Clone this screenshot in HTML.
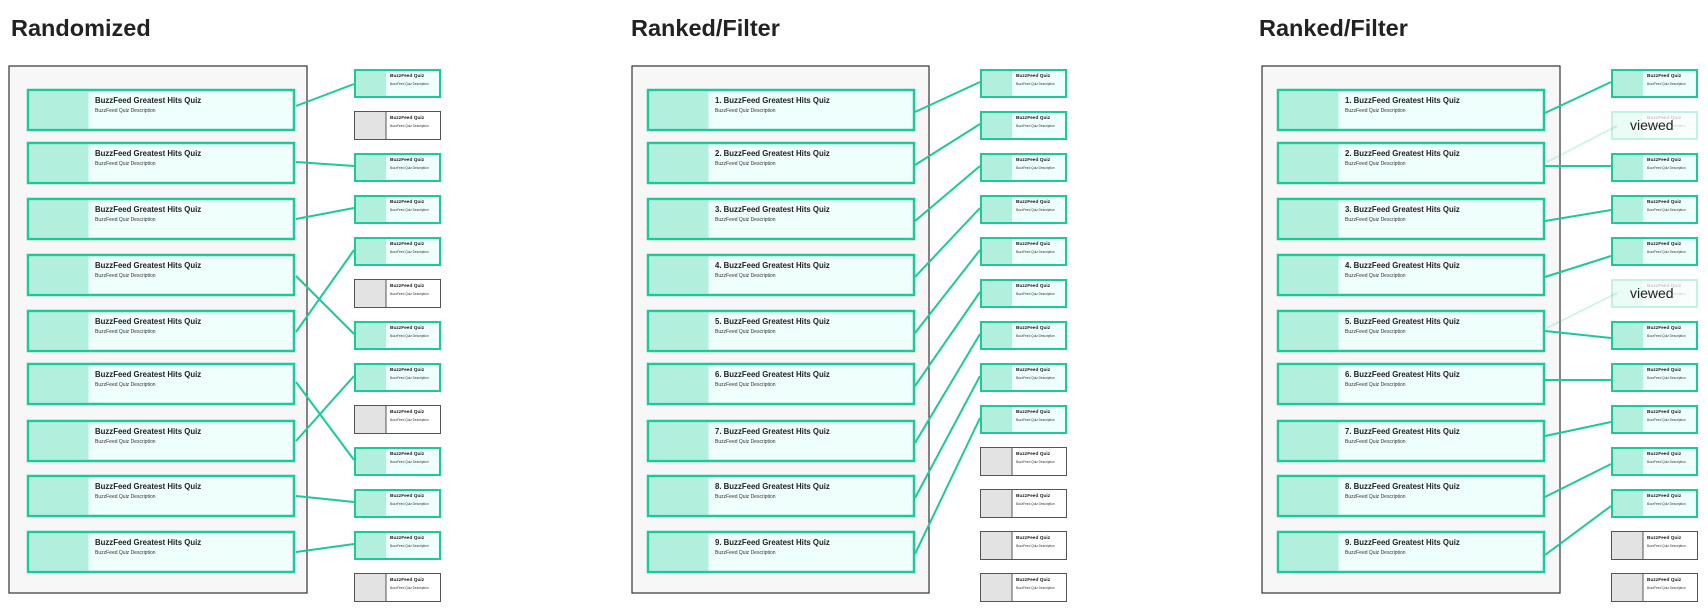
<!DOCTYPE html>
<html><head><meta charset="utf-8"><style>
html,body{margin:0;padding:0;background:#fff;}
svg{display:block;font-family:"Liberation Sans",sans-serif;}
.h{font-size:23.5px;font-weight:bold;fill:#222;}
.ct{font-size:7.8px;font-weight:bold;fill:#222;}
.cd{font-size:5px;fill:#333;}
.st{font-size:4.8px;font-weight:bold;fill:#222;}
.sd{font-size:3.2px;fill:#333;}
.card{fill:#effffb;stroke:#1dc99a;stroke-width:2.5;}
.th{fill:#b2f0dd;}
.sg{fill:#effffb;stroke:#1dc99a;stroke-width:2;}
.sgr{fill:#fff;stroke:#555;stroke-width:1;}
.thg{fill:#e3e3e3;}
.ln{stroke:#1dc99a;stroke-width:2;fill:none;}
.fl{stroke:#1dc99a;stroke-width:2;opacity:0.2;}
.out{fill:#f7f7f7;stroke:#333;stroke-width:1.2;}
</style></head><body>
<svg width="1708" height="611" viewBox="0 0 1708 611">
<text class="h" x="11" y="36">Randomized</text>
<text class="h" x="631" y="36">Ranked/Filter</text>
<text class="h" x="1259" y="36">Ranked/Filter</text>

<rect class="out" x="9" y="66" width="298" height="527"/>
<rect class="out" x="632" y="66" width="297" height="527"/>
<rect class="out" x="1262" y="66" width="298" height="527"/>

<g transform="translate(27,89)"><rect class="card" x="1" y="1" width="266" height="40"/><rect class="th" x="2.5" y="2.5" width="59" height="37"/><text class="ct" x="68" y="14">BuzzFeed Greatest Hits Quiz</text><text class="cd" x="68" y="23">BuzzFeed Quiz Description</text></g>
<g transform="translate(27,142)"><rect class="card" x="1" y="1" width="266" height="40"/><rect class="th" x="2.5" y="2.5" width="59" height="37"/><text class="ct" x="68" y="14">BuzzFeed Greatest Hits Quiz</text><text class="cd" x="68" y="23">BuzzFeed Quiz Description</text></g>
<g transform="translate(27,198)"><rect class="card" x="1" y="1" width="266" height="40"/><rect class="th" x="2.5" y="2.5" width="59" height="37"/><text class="ct" x="68" y="14">BuzzFeed Greatest Hits Quiz</text><text class="cd" x="68" y="23">BuzzFeed Quiz Description</text></g>
<g transform="translate(27,254)"><rect class="card" x="1" y="1" width="266" height="40"/><rect class="th" x="2.5" y="2.5" width="59" height="37"/><text class="ct" x="68" y="14">BuzzFeed Greatest Hits Quiz</text><text class="cd" x="68" y="23">BuzzFeed Quiz Description</text></g>
<g transform="translate(27,310)"><rect class="card" x="1" y="1" width="266" height="40"/><rect class="th" x="2.5" y="2.5" width="59" height="37"/><text class="ct" x="68" y="14">BuzzFeed Greatest Hits Quiz</text><text class="cd" x="68" y="23">BuzzFeed Quiz Description</text></g>
<g transform="translate(27,363)"><rect class="card" x="1" y="1" width="266" height="40"/><rect class="th" x="2.5" y="2.5" width="59" height="37"/><text class="ct" x="68" y="14">BuzzFeed Greatest Hits Quiz</text><text class="cd" x="68" y="23">BuzzFeed Quiz Description</text></g>
<g transform="translate(27,420)"><rect class="card" x="1" y="1" width="266" height="40"/><rect class="th" x="2.5" y="2.5" width="59" height="37"/><text class="ct" x="68" y="14">BuzzFeed Greatest Hits Quiz</text><text class="cd" x="68" y="23">BuzzFeed Quiz Description</text></g>
<g transform="translate(27,475)"><rect class="card" x="1" y="1" width="266" height="40"/><rect class="th" x="2.5" y="2.5" width="59" height="37"/><text class="ct" x="68" y="14">BuzzFeed Greatest Hits Quiz</text><text class="cd" x="68" y="23">BuzzFeed Quiz Description</text></g>
<g transform="translate(27,531)"><rect class="card" x="1" y="1" width="266" height="40"/><rect class="th" x="2.5" y="2.5" width="59" height="37"/><text class="ct" x="68" y="14">BuzzFeed Greatest Hits Quiz</text><text class="cd" x="68" y="23">BuzzFeed Quiz Description</text></g>

<g transform="translate(647,89)"><rect class="card" x="1" y="1" width="266" height="40"/><rect class="th" x="2.5" y="2.5" width="59" height="37"/><text class="ct" x="68" y="14">1. BuzzFeed Greatest Hits Quiz</text><text class="cd" x="68" y="23">BuzzFeed Quiz Description</text></g>
<g transform="translate(647,142)"><rect class="card" x="1" y="1" width="266" height="40"/><rect class="th" x="2.5" y="2.5" width="59" height="37"/><text class="ct" x="68" y="14">2. BuzzFeed Greatest Hits Quiz</text><text class="cd" x="68" y="23">BuzzFeed Quiz Description</text></g>
<g transform="translate(647,198)"><rect class="card" x="1" y="1" width="266" height="40"/><rect class="th" x="2.5" y="2.5" width="59" height="37"/><text class="ct" x="68" y="14">3. BuzzFeed Greatest Hits Quiz</text><text class="cd" x="68" y="23">BuzzFeed Quiz Description</text></g>
<g transform="translate(647,254)"><rect class="card" x="1" y="1" width="266" height="40"/><rect class="th" x="2.5" y="2.5" width="59" height="37"/><text class="ct" x="68" y="14">4. BuzzFeed Greatest Hits Quiz</text><text class="cd" x="68" y="23">BuzzFeed Quiz Description</text></g>
<g transform="translate(647,310)"><rect class="card" x="1" y="1" width="266" height="40"/><rect class="th" x="2.5" y="2.5" width="59" height="37"/><text class="ct" x="68" y="14">5. BuzzFeed Greatest Hits Quiz</text><text class="cd" x="68" y="23">BuzzFeed Quiz Description</text></g>
<g transform="translate(647,363)"><rect class="card" x="1" y="1" width="266" height="40"/><rect class="th" x="2.5" y="2.5" width="59" height="37"/><text class="ct" x="68" y="14">6. BuzzFeed Greatest Hits Quiz</text><text class="cd" x="68" y="23">BuzzFeed Quiz Description</text></g>
<g transform="translate(647,420)"><rect class="card" x="1" y="1" width="266" height="40"/><rect class="th" x="2.5" y="2.5" width="59" height="37"/><text class="ct" x="68" y="14">7. BuzzFeed Greatest Hits Quiz</text><text class="cd" x="68" y="23">BuzzFeed Quiz Description</text></g>
<g transform="translate(647,475)"><rect class="card" x="1" y="1" width="266" height="40"/><rect class="th" x="2.5" y="2.5" width="59" height="37"/><text class="ct" x="68" y="14">8. BuzzFeed Greatest Hits Quiz</text><text class="cd" x="68" y="23">BuzzFeed Quiz Description</text></g>
<g transform="translate(647,531)"><rect class="card" x="1" y="1" width="266" height="40"/><rect class="th" x="2.5" y="2.5" width="59" height="37"/><text class="ct" x="68" y="14">9. BuzzFeed Greatest Hits Quiz</text><text class="cd" x="68" y="23">BuzzFeed Quiz Description</text></g>

<g transform="translate(1277,89)"><rect class="card" x="1" y="1" width="266" height="40"/><rect class="th" x="2.5" y="2.5" width="59" height="37"/><text class="ct" x="68" y="14">1. BuzzFeed Greatest Hits Quiz</text><text class="cd" x="68" y="23">BuzzFeed Quiz Description</text></g>
<g transform="translate(1277,142)"><rect class="card" x="1" y="1" width="266" height="40"/><rect class="th" x="2.5" y="2.5" width="59" height="37"/><text class="ct" x="68" y="14">2. BuzzFeed Greatest Hits Quiz</text><text class="cd" x="68" y="23">BuzzFeed Quiz Description</text></g>
<g transform="translate(1277,198)"><rect class="card" x="1" y="1" width="266" height="40"/><rect class="th" x="2.5" y="2.5" width="59" height="37"/><text class="ct" x="68" y="14">3. BuzzFeed Greatest Hits Quiz</text><text class="cd" x="68" y="23">BuzzFeed Quiz Description</text></g>
<g transform="translate(1277,254)"><rect class="card" x="1" y="1" width="266" height="40"/><rect class="th" x="2.5" y="2.5" width="59" height="37"/><text class="ct" x="68" y="14">4. BuzzFeed Greatest Hits Quiz</text><text class="cd" x="68" y="23">BuzzFeed Quiz Description</text></g>
<g transform="translate(1277,310)"><rect class="card" x="1" y="1" width="266" height="40"/><rect class="th" x="2.5" y="2.5" width="59" height="37"/><text class="ct" x="68" y="14">5. BuzzFeed Greatest Hits Quiz</text><text class="cd" x="68" y="23">BuzzFeed Quiz Description</text></g>
<g transform="translate(1277,363)"><rect class="card" x="1" y="1" width="266" height="40"/><rect class="th" x="2.5" y="2.5" width="59" height="37"/><text class="ct" x="68" y="14">6. BuzzFeed Greatest Hits Quiz</text><text class="cd" x="68" y="23">BuzzFeed Quiz Description</text></g>
<g transform="translate(1277,420)"><rect class="card" x="1" y="1" width="266" height="40"/><rect class="th" x="2.5" y="2.5" width="59" height="37"/><text class="ct" x="68" y="14">7. BuzzFeed Greatest Hits Quiz</text><text class="cd" x="68" y="23">BuzzFeed Quiz Description</text></g>
<g transform="translate(1277,475)"><rect class="card" x="1" y="1" width="266" height="40"/><rect class="th" x="2.5" y="2.5" width="59" height="37"/><text class="ct" x="68" y="14">8. BuzzFeed Greatest Hits Quiz</text><text class="cd" x="68" y="23">BuzzFeed Quiz Description</text></g>
<g transform="translate(1277,531)"><rect class="card" x="1" y="1" width="266" height="40"/><rect class="th" x="2.5" y="2.5" width="59" height="37"/><text class="ct" x="68" y="14">9. BuzzFeed Greatest Hits Quiz</text><text class="cd" x="68" y="23">BuzzFeed Quiz Description</text></g>

<g transform="translate(354,69)"><rect class="sg" x="1" y="1" width="85" height="27"/><rect class="th" x="2" y="2" width="30" height="25"/><text class="st" x="36" y="8">BuzzFeed Quiz</text><text class="sd" x="36" y="16">BuzzFeed Quiz Description</text></g>
<g transform="translate(354,111)"><rect class="sgr" x="0.5" y="0.5" width="86" height="28"/><rect class="thg" x="1" y="1" width="31" height="27"/><line x1="32" y1="1" x2="32" y2="28" stroke="#555"/><text class="st" x="36" y="8">BuzzFeed Quiz</text><text class="sd" x="36" y="16">BuzzFeed Quiz Description</text></g>
<g transform="translate(354,153)"><rect class="sg" x="1" y="1" width="85" height="27"/><rect class="th" x="2" y="2" width="30" height="25"/><text class="st" x="36" y="8">BuzzFeed Quiz</text><text class="sd" x="36" y="16">BuzzFeed Quiz Description</text></g>
<g transform="translate(354,195)"><rect class="sg" x="1" y="1" width="85" height="27"/><rect class="th" x="2" y="2" width="30" height="25"/><text class="st" x="36" y="8">BuzzFeed Quiz</text><text class="sd" x="36" y="16">BuzzFeed Quiz Description</text></g>
<g transform="translate(354,237)"><rect class="sg" x="1" y="1" width="85" height="27"/><rect class="th" x="2" y="2" width="30" height="25"/><text class="st" x="36" y="8">BuzzFeed Quiz</text><text class="sd" x="36" y="16">BuzzFeed Quiz Description</text></g>
<g transform="translate(354,279)"><rect class="sgr" x="0.5" y="0.5" width="86" height="28"/><rect class="thg" x="1" y="1" width="31" height="27"/><line x1="32" y1="1" x2="32" y2="28" stroke="#555"/><text class="st" x="36" y="8">BuzzFeed Quiz</text><text class="sd" x="36" y="16">BuzzFeed Quiz Description</text></g>
<g transform="translate(354,321)"><rect class="sg" x="1" y="1" width="85" height="27"/><rect class="th" x="2" y="2" width="30" height="25"/><text class="st" x="36" y="8">BuzzFeed Quiz</text><text class="sd" x="36" y="16">BuzzFeed Quiz Description</text></g>
<g transform="translate(354,363)"><rect class="sg" x="1" y="1" width="85" height="27"/><rect class="th" x="2" y="2" width="30" height="25"/><text class="st" x="36" y="8">BuzzFeed Quiz</text><text class="sd" x="36" y="16">BuzzFeed Quiz Description</text></g>
<g transform="translate(354,405)"><rect class="sgr" x="0.5" y="0.5" width="86" height="28"/><rect class="thg" x="1" y="1" width="31" height="27"/><line x1="32" y1="1" x2="32" y2="28" stroke="#555"/><text class="st" x="36" y="8">BuzzFeed Quiz</text><text class="sd" x="36" y="16">BuzzFeed Quiz Description</text></g>
<g transform="translate(354,447)"><rect class="sg" x="1" y="1" width="85" height="27"/><rect class="th" x="2" y="2" width="30" height="25"/><text class="st" x="36" y="8">BuzzFeed Quiz</text><text class="sd" x="36" y="16">BuzzFeed Quiz Description</text></g>
<g transform="translate(354,489)"><rect class="sg" x="1" y="1" width="85" height="27"/><rect class="th" x="2" y="2" width="30" height="25"/><text class="st" x="36" y="8">BuzzFeed Quiz</text><text class="sd" x="36" y="16">BuzzFeed Quiz Description</text></g>
<g transform="translate(354,531)"><rect class="sg" x="1" y="1" width="85" height="27"/><rect class="th" x="2" y="2" width="30" height="25"/><text class="st" x="36" y="8">BuzzFeed Quiz</text><text class="sd" x="36" y="16">BuzzFeed Quiz Description</text></g>
<g transform="translate(354,573)"><rect class="sgr" x="0.5" y="0.5" width="86" height="28"/><rect class="thg" x="1" y="1" width="31" height="27"/><line x1="32" y1="1" x2="32" y2="28" stroke="#555"/><text class="st" x="36" y="8">BuzzFeed Quiz</text><text class="sd" x="36" y="16">BuzzFeed Quiz Description</text></g>

<g transform="translate(980,69)"><rect class="sg" x="1" y="1" width="85" height="27"/><rect class="th" x="2" y="2" width="30" height="25"/><text class="st" x="36" y="8">BuzzFeed Quiz</text><text class="sd" x="36" y="16">BuzzFeed Quiz Description</text></g>
<g transform="translate(980,111)"><rect class="sg" x="1" y="1" width="85" height="27"/><rect class="th" x="2" y="2" width="30" height="25"/><text class="st" x="36" y="8">BuzzFeed Quiz</text><text class="sd" x="36" y="16">BuzzFeed Quiz Description</text></g>
<g transform="translate(980,153)"><rect class="sg" x="1" y="1" width="85" height="27"/><rect class="th" x="2" y="2" width="30" height="25"/><text class="st" x="36" y="8">BuzzFeed Quiz</text><text class="sd" x="36" y="16">BuzzFeed Quiz Description</text></g>
<g transform="translate(980,195)"><rect class="sg" x="1" y="1" width="85" height="27"/><rect class="th" x="2" y="2" width="30" height="25"/><text class="st" x="36" y="8">BuzzFeed Quiz</text><text class="sd" x="36" y="16">BuzzFeed Quiz Description</text></g>
<g transform="translate(980,237)"><rect class="sg" x="1" y="1" width="85" height="27"/><rect class="th" x="2" y="2" width="30" height="25"/><text class="st" x="36" y="8">BuzzFeed Quiz</text><text class="sd" x="36" y="16">BuzzFeed Quiz Description</text></g>
<g transform="translate(980,279)"><rect class="sg" x="1" y="1" width="85" height="27"/><rect class="th" x="2" y="2" width="30" height="25"/><text class="st" x="36" y="8">BuzzFeed Quiz</text><text class="sd" x="36" y="16">BuzzFeed Quiz Description</text></g>
<g transform="translate(980,321)"><rect class="sg" x="1" y="1" width="85" height="27"/><rect class="th" x="2" y="2" width="30" height="25"/><text class="st" x="36" y="8">BuzzFeed Quiz</text><text class="sd" x="36" y="16">BuzzFeed Quiz Description</text></g>
<g transform="translate(980,363)"><rect class="sg" x="1" y="1" width="85" height="27"/><rect class="th" x="2" y="2" width="30" height="25"/><text class="st" x="36" y="8">BuzzFeed Quiz</text><text class="sd" x="36" y="16">BuzzFeed Quiz Description</text></g>
<g transform="translate(980,405)"><rect class="sg" x="1" y="1" width="85" height="27"/><rect class="th" x="2" y="2" width="30" height="25"/><text class="st" x="36" y="8">BuzzFeed Quiz</text><text class="sd" x="36" y="16">BuzzFeed Quiz Description</text></g>
<g transform="translate(980,447)"><rect class="sgr" x="0.5" y="0.5" width="86" height="28"/><rect class="thg" x="1" y="1" width="31" height="27"/><line x1="32" y1="1" x2="32" y2="28" stroke="#555"/><text class="st" x="36" y="8">BuzzFeed Quiz</text><text class="sd" x="36" y="16">BuzzFeed Quiz Description</text></g>
<g transform="translate(980,489)"><rect class="sgr" x="0.5" y="0.5" width="86" height="28"/><rect class="thg" x="1" y="1" width="31" height="27"/><line x1="32" y1="1" x2="32" y2="28" stroke="#555"/><text class="st" x="36" y="8">BuzzFeed Quiz</text><text class="sd" x="36" y="16">BuzzFeed Quiz Description</text></g>
<g transform="translate(980,531)"><rect class="sgr" x="0.5" y="0.5" width="86" height="28"/><rect class="thg" x="1" y="1" width="31" height="27"/><line x1="32" y1="1" x2="32" y2="28" stroke="#555"/><text class="st" x="36" y="8">BuzzFeed Quiz</text><text class="sd" x="36" y="16">BuzzFeed Quiz Description</text></g>
<g transform="translate(980,573)"><rect class="sgr" x="0.5" y="0.5" width="86" height="28"/><rect class="thg" x="1" y="1" width="31" height="27"/><line x1="32" y1="1" x2="32" y2="28" stroke="#555"/><text class="st" x="36" y="8">BuzzFeed Quiz</text><text class="sd" x="36" y="16">BuzzFeed Quiz Description</text></g>

<g transform="translate(1611,69)"><rect class="sg" x="1" y="1" width="85" height="27"/><rect class="th" x="2" y="2" width="30" height="25"/><text class="st" x="36" y="8">BuzzFeed Quiz</text><text class="sd" x="36" y="16">BuzzFeed Quiz Description</text></g>
<g transform="translate(1611,111)"><g opacity="0.25"><rect class="sg" x="1" y="1" width="85" height="27"/><rect class="th" x="2" y="2" width="30" height="25"/><text class="st" x="36" y="8">BuzzFeed Quiz</text><text class="sd" x="36" y="16">BuzzFeed Quiz Description</text></g><text x="19" y="19" font-size="14" fill="#222">viewed</text></g>
<g transform="translate(1611,153)"><rect class="sg" x="1" y="1" width="85" height="27"/><rect class="th" x="2" y="2" width="30" height="25"/><text class="st" x="36" y="8">BuzzFeed Quiz</text><text class="sd" x="36" y="16">BuzzFeed Quiz Description</text></g>
<g transform="translate(1611,195)"><rect class="sg" x="1" y="1" width="85" height="27"/><rect class="th" x="2" y="2" width="30" height="25"/><text class="st" x="36" y="8">BuzzFeed Quiz</text><text class="sd" x="36" y="16">BuzzFeed Quiz Description</text></g>
<g transform="translate(1611,237)"><rect class="sg" x="1" y="1" width="85" height="27"/><rect class="th" x="2" y="2" width="30" height="25"/><text class="st" x="36" y="8">BuzzFeed Quiz</text><text class="sd" x="36" y="16">BuzzFeed Quiz Description</text></g>
<g transform="translate(1611,279)"><g opacity="0.25"><rect class="sg" x="1" y="1" width="85" height="27"/><rect class="th" x="2" y="2" width="30" height="25"/><text class="st" x="36" y="8">BuzzFeed Quiz</text><text class="sd" x="36" y="16">BuzzFeed Quiz Description</text></g><text x="19" y="19" font-size="14" fill="#222">viewed</text></g>
<g transform="translate(1611,321)"><rect class="sg" x="1" y="1" width="85" height="27"/><rect class="th" x="2" y="2" width="30" height="25"/><text class="st" x="36" y="8">BuzzFeed Quiz</text><text class="sd" x="36" y="16">BuzzFeed Quiz Description</text></g>
<g transform="translate(1611,363)"><rect class="sg" x="1" y="1" width="85" height="27"/><rect class="th" x="2" y="2" width="30" height="25"/><text class="st" x="36" y="8">BuzzFeed Quiz</text><text class="sd" x="36" y="16">BuzzFeed Quiz Description</text></g>
<g transform="translate(1611,405)"><rect class="sg" x="1" y="1" width="85" height="27"/><rect class="th" x="2" y="2" width="30" height="25"/><text class="st" x="36" y="8">BuzzFeed Quiz</text><text class="sd" x="36" y="16">BuzzFeed Quiz Description</text></g>
<g transform="translate(1611,447)"><rect class="sg" x="1" y="1" width="85" height="27"/><rect class="th" x="2" y="2" width="30" height="25"/><text class="st" x="36" y="8">BuzzFeed Quiz</text><text class="sd" x="36" y="16">BuzzFeed Quiz Description</text></g>
<g transform="translate(1611,489)"><rect class="sg" x="1" y="1" width="85" height="27"/><rect class="th" x="2" y="2" width="30" height="25"/><text class="st" x="36" y="8">BuzzFeed Quiz</text><text class="sd" x="36" y="16">BuzzFeed Quiz Description</text></g>
<g transform="translate(1611,531)"><rect class="sgr" x="0.5" y="0.5" width="86" height="28"/><rect class="thg" x="1" y="1" width="31" height="27"/><line x1="32" y1="1" x2="32" y2="28" stroke="#555"/><text class="st" x="36" y="8">BuzzFeed Quiz</text><text class="sd" x="36" y="16">BuzzFeed Quiz Description</text></g>
<g transform="translate(1611,573)"><rect class="sgr" x="0.5" y="0.5" width="86" height="28"/><rect class="thg" x="1" y="1" width="31" height="27"/><line x1="32" y1="1" x2="32" y2="28" stroke="#555"/><text class="st" x="36" y="8">BuzzFeed Quiz</text><text class="sd" x="36" y="16">BuzzFeed Quiz Description</text></g>

<g class="ln">
<line x1="296" y1="106" x2="354" y2="84"/>
<line x1="296" y1="162" x2="354" y2="166"/>
<line x1="296" y1="219" x2="354" y2="208"/>
<line x1="296" y1="276" x2="354" y2="334"/>
<line x1="296" y1="332" x2="354" y2="250"/>
<line x1="296" y1="382" x2="354" y2="460"/>
<line x1="296" y1="441" x2="354" y2="376"/>
<line x1="296" y1="496" x2="354" y2="502"/>
<line x1="296" y1="552" x2="354" y2="544"/>
</g>
<g class="ln">
<line x1="915" y1="112" x2="980" y2="82"/>
<line x1="915" y1="165" x2="980" y2="124"/>
<line x1="915" y1="221" x2="980" y2="166"/>
<line x1="915" y1="277" x2="980" y2="208"/>
<line x1="915" y1="333" x2="980" y2="250"/>
<line x1="915" y1="386" x2="980" y2="292"/>
<line x1="915" y1="443" x2="980" y2="334"/>
<line x1="915" y1="498" x2="980" y2="376"/>
<line x1="915" y1="554" x2="980" y2="418"/>
</g>
<g class="ln">
<line x1="1545" y1="113" x2="1611" y2="82"/>
<line x1="1545" y1="166" x2="1611" y2="166"/>
<line x1="1545" y1="221" x2="1611" y2="210"/>
<line x1="1545" y1="277" x2="1611" y2="256"/>
<line x1="1545" y1="331" x2="1611" y2="338"/>
<line x1="1545" y1="380" x2="1611" y2="380"/>
<line x1="1545" y1="436" x2="1611" y2="422"/>
<line x1="1545" y1="497" x2="1611" y2="464"/>
<line x1="1545" y1="555" x2="1611" y2="506"/>
</g>
<line class="fl" x1="1547" y1="162" x2="1617" y2="126"/>
<line class="fl" x1="1547" y1="328" x2="1617" y2="293"/>
</svg>
</body></html>
